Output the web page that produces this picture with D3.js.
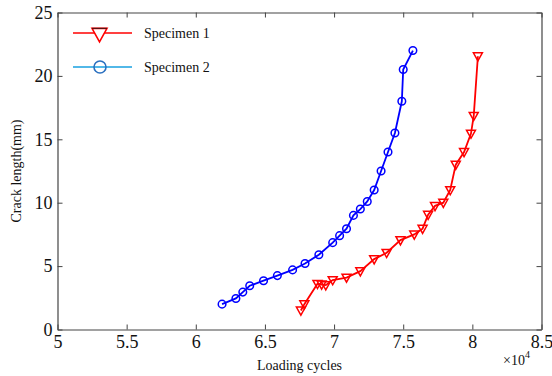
<!DOCTYPE html>
<html>
<head>
<meta charset="utf-8">
<script src="https://cdn.jsdelivr.net/npm/d3@7/dist/d3.min.js"></script>
<style>
  html, body { margin: 0; padding: 0; background: #fff; }
  svg { display: block; }
  text { font-family: 'Liberation Serif', 'Times New Roman', serif; fill: #111; }
</style>
</head>
<body>
<svg id="chart" width="552" height="376"></svg>
<script>
// Loading cycles (×10^4) and crack length (mm) for each specimen
const spec1Cycles = [6.76, 6.785, 6.88, 6.91, 6.94, 6.99, 7.09, 7.19, 7.29, 7.38, 7.48, 7.58, 7.64, 7.68, 7.73, 7.79, 7.84, 7.88, 7.94, 7.99, 8.01, 8.04];
const spec1Crack  = [1.5, 2.0, 3.6, 3.55, 3.5, 3.9, 4.1, 4.6, 5.55, 6.05, 7.05, 7.5, 7.95, 9.05, 9.75, 10.0, 11.0, 13.0, 14.0, 15.45, 16.85, 21.55];
const spec2Cycles = [6.19, 6.29, 6.34, 6.39, 6.49, 6.59, 6.70, 6.79, 6.89, 6.99, 7.04, 7.09, 7.14, 7.19, 7.24, 7.29, 7.34, 7.39, 7.44, 7.49, 7.50, 7.57];
const spec2Crack  = [2.0, 2.45, 2.95, 3.45, 3.85, 4.25, 4.7, 5.2, 5.9, 6.85, 7.4, 7.95, 9.0, 9.5, 10.1, 11.0, 12.5, 14.0, 15.5, 18.0, 20.5, 22.0];

const xTicks = [5, 5.5, 6, 6.5, 7, 7.5, 8, 8.5];
const yTicks = [0, 5, 10, 15, 20, 25];
const seriesNames = ["Specimen 1", "Specimen 2"];

const svg = d3.select("#chart");
const L = 57.5, R = 541.5, T = 12.5, B = 329.5;

const x = d3.scaleLinear().domain([5, 8.5]).range([L, R]);
const y = d3.scaleLinear().domain([0, 25]).range([B, T]);

const axisColor = "#444";
const tickLen = 5;
const serif = "'Liberation Serif', 'Times New Roman', serif";

// Bottom and left axes with inward ticks
const gx = svg.append("g").attr("transform", `translate(0,${B})`)
  .call(d3.axisBottom(x).tickValues(xTicks).tickSizeInner(-tickLen).tickSizeOuter(0)
    .tickPadding(6).tickFormat(d3.format("~g")));
const gy = svg.append("g").attr("transform", `translate(${L},0)`)
  .call(d3.axisLeft(y).tickValues(yTicks).tickSizeInner(-tickLen).tickSizeOuter(0)
    .tickPadding(5).tickFormat(d3.format("d")));
// Top and right axes (ticks only)
const gxt = svg.append("g").attr("transform", `translate(0,${T})`)
  .call(d3.axisTop(x).tickValues(xTicks).tickSizeInner(-tickLen).tickSizeOuter(0).tickFormat(""));
const gyr = svg.append("g").attr("transform", `translate(${R},0)`)
  .call(d3.axisRight(y).tickValues(yTicks).tickSizeInner(-tickLen).tickSizeOuter(0).tickFormat(""));

[gx, gy, gxt, gyr].forEach(g => {
  g.attr("font-family", serif);
  g.select(".domain").attr("stroke", axisColor).attr("stroke-width", 1.2);
  g.selectAll(".tick line").attr("stroke", axisColor).attr("stroke-width", 1);
  g.selectAll(".tick text").style("font-family", serif)
    .style("font-size", "18px").attr("fill", "#111");
});

// Axis titles
svg.append("text").attr("x", (L + R) / 2).attr("y", 370)
  .attr("text-anchor", "middle").style("font-size", "14px").text("Loading cycles");
svg.append("text").attr("transform", `translate(21,${(T + B) / 2}) rotate(-90)`)
  .attr("text-anchor", "middle").style("font-size", "14px").text("Crack length(mm)");
const mult = svg.append("text").attr("x", 503).attr("y", 365).style("font-size", "14px");
mult.append("tspan").text("×10");
mult.append("tspan").attr("dy", -7).style("font-size", "10px").text("4");

// Marker shapes
const triPath = (cx, cy, s) =>
  `M${cx - s},${cy - s * 0.75}L${cx + s},${cy - s * 0.75}L${cx},${cy + s * 1.05}Z`;

const line = d3.line().x(d => x(d[0])).y(d => y(d[1]));
const s1 = spec1Cycles.map((c, i) => [c, spec1Crack[i]]);
const s2 = spec2Cycles.map((c, i) => [c, spec2Crack[i]]);

const red = "#ff0000", blue = "#0000ff";

// Specimen 2 (blue circles)
svg.append("path").datum(s2).attr("d", line)
  .attr("fill", "none").attr("stroke", blue).attr("stroke-width", 1.8);
svg.append("g").selectAll("circle").data(s2).join("circle")
  .attr("cx", d => x(d[0])).attr("cy", d => y(d[1])).attr("r", 3.8)
  .attr("fill", "none").attr("stroke", blue).attr("stroke-width", 1.5);

// Specimen 1 (red downward triangles)
svg.append("path").datum(s1).attr("d", line)
  .attr("fill", "none").attr("stroke", red).attr("stroke-width", 1.8);
svg.append("g").selectAll("path").data(s1).join("path")
  .attr("d", d => triPath(x(d[0]), y(d[1]), 4.5))
  .attr("fill", "none").attr("stroke", red).attr("stroke-width", 1.5);

// Legend
const leg = svg.append("g");
const legY = [33, 67];
leg.append("line").attr("x1", 73).attr("x2", 132).attr("y1", legY[0]).attr("y2", legY[0])
  .attr("stroke", red).attr("stroke-width", 1.6);
leg.append("path").attr("d", triPath(99.5, legY[0] + 1, 7.5))
  .attr("fill", "#fff").attr("stroke", red).attr("stroke-width", 1.6);
leg.append("line").attr("x1", 92).attr("x2", 107).attr("y1", legY[0] + 1 - 7.5 * 0.75).attr("y2", legY[0] + 1 - 7.5 * 0.75)
  .attr("stroke", "#5a1010").attr("stroke-width", 1.2);
leg.append("line").attr("x1", 73).attr("x2", 132).attr("y1", legY[1]).attr("y2", legY[1])
  .attr("stroke", "#18a0e0").attr("stroke-width", 1.6);
leg.append("circle").attr("cx", 100).attr("cy", legY[1]).attr("r", 6)
  .attr("fill", "none").attr("stroke", "#2a70c0").attr("stroke-width", 1.6);
seriesNames.forEach((n, i) => {
  leg.append("text").attr("x", 144).attr("y", legY[i] + 5).style("font-size", "14px").text(n);
});
</script>
</body>
</html>
